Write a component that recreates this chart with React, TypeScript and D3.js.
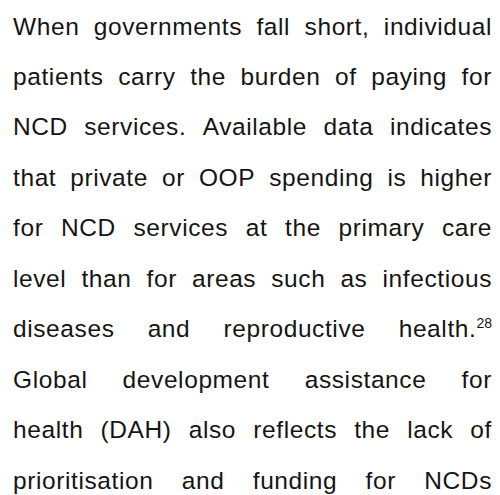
import React, { useRef, useEffect } from "react";
import * as d3 from "d3";

// paragraph lines, as broken in the original layout ("^" marks a superscript note)
const lines = [
  "When governments fall short, individual",
  "patients carry the burden of paying for",
  "NCD services. Available data indicates",
  "that private or OOP spending is higher",
  "for NCD services at the primary care",
  "level than for areas such as infectious",
  "diseases and reproductive health.^28",
  "Global development assistance for",
  "health (DAH) also reflects the lack of",
  "prioritisation and funding for NCDs",
];

const W = 500;
const H = 495;
const left = 13;
const right = 492;
const fontSize = 24.5;

const App = () => {
  const svgRef = useRef<SVGSVGElement>(null);

  useEffect(() => {
    const svg = d3.select(svgRef.current);
    svg.selectAll("*").remove();

    const y = d3
      .scaleLinear()
      .domain([0, lines.length - 1])
      .range([34.5, 488.5]);

    lines.forEach((line, i) => {
      const words = line.split(" ");
      const g = svg.append("g");
      const nodes = words.map((w) => {
        const [main, sup] = w.split("^");
        const t = g
          .append("text")
          .attr("y", y(i))
          .style("font-family", "'Helvetica Neue', 'Liberation Sans', Arial, sans-serif")
          .style("font-size", fontSize + "px")
          .style("letter-spacing", "0.6px")
          .attr("fill", "#151515");
        t.append("tspan").text(main);
        if (sup) {
          t.append("tspan")
            .attr("dy", -9)
            .style("font-size", "14px")
            .style("letter-spacing", "0px")
            .text(sup);
        }
        return t;
      });
      const widths = nodes.map((t) => (t.node() as SVGTextElement).getComputedTextLength());
      const total = d3.sum(widths);
      const gap = words.length > 1 ? (right - left - total) / (words.length - 1) : 0;
      let x = left;
      nodes.forEach((t, j) => {
        t.attr("x", x);
        x += widths[j] + gap;
      });
    });
  }, []);

  return (
    <svg
      ref={svgRef}
      width={W}
      height={H}
      style={{ position: "absolute", left: 0, top: 0, background: "#fff" }}
    />
  );
};

export default App;
